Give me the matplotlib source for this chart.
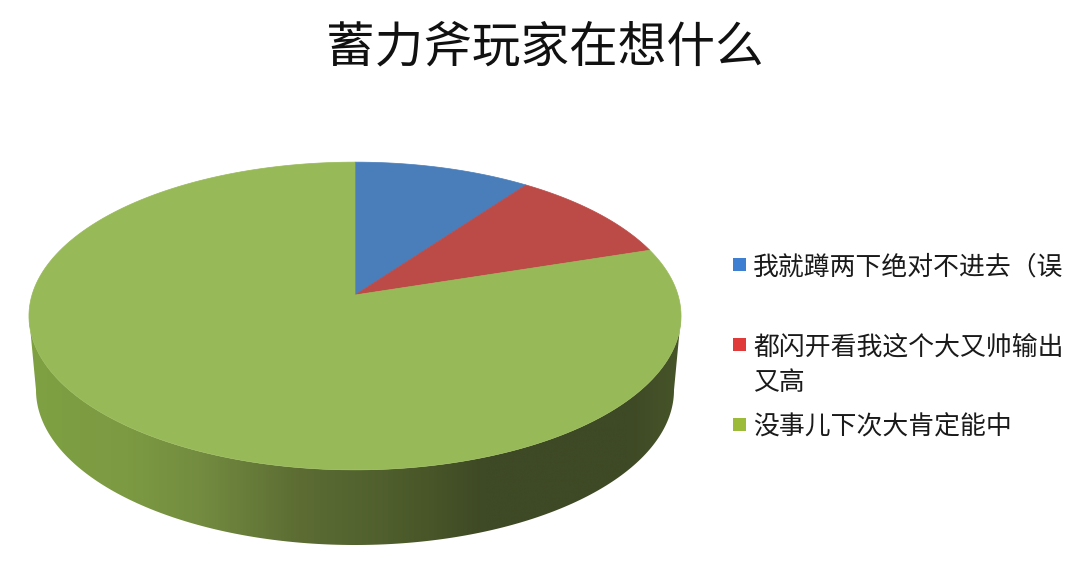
import numpy as np
import matplotlib
matplotlib.use('Agg')
import matplotlib.pyplot as plt
from matplotlib.patches import Polygon, Rectangle
from matplotlib.colors import LinearSegmentedColormap

plt.rcParams['font.family'] = ['Noto Sans CJK SC', 'DejaVu Sans']

title = '蓄力斧玩家在想什么'
labels = ['我就蹲两下绝对不进去（误', '都闪开看我这个大又帅输出\n又高', '没事儿下次大肯定能中']
values = [10, 10, 80]
colors = ['#4a7ebb', '#bc4b48', '#98b958']
legend_colors = ['#3f7fd2', '#e03a3a', '#9dbb3b']
legend_y = [265, 345, 425]

CX, CY = 355, 295
A, B, K = 323, 151, 0.1364


def rim(start, stop, n=200):
    # clockwise angle from twelve o'clock, with a little perspective
    t = np.linspace(start, stop, n)
    x, y = np.sin(t), np.cos(t)
    w = 1 + K * y
    return CX + A * x / w, CY - B * y / w


fig = plt.figure(figsize=(10.88, 5.80), dpi=100)
ax = fig.add_axes([0, 0, 1, 1])
ax.set_xlim(0, 1088)
ax.set_ylim(580, 0)
ax.axis('off')

# side wall: shaded band, clipped to the outline between top rim and lower rim
wall_cmap = LinearSegmentedColormap.from_list('wall', [
    (0.0, '#7fa043'), (0.15, '#7c9a42'), (0.26, '#738c40'), (0.415, '#5c6c33'),
    (0.50, '#546430'), (0.60, '#4a5829'), (0.70, '#3e4925'), (0.92, '#3e4925'),
    (1.0, '#47552a')])
t = np.linspace(np.pi / 2, 3 * np.pi / 2, 200)
low_x = 355 + 319 * np.sin(t)
low_y = 390 - 155 * np.cos(t)
top_t = np.linspace(3 * np.pi / 2, np.pi / 2, 200)
top_x = 355 + 326 * np.sin(top_t)
top_y = 316 - 154 * np.cos(top_t)
outline = Polygon(np.column_stack([np.r_[low_x, top_x], np.r_[low_y, top_y]]),
                  closed=True, fc='none', ec='none')
ax.add_patch(outline)
im = ax.imshow(np.linspace(0, 1, 512)[None, :], cmap=wall_cmap, aspect='auto',
               extent=[29, 681, 560, 300], zorder=1)
im.set_clip_path(outline)
ax.set_xlim(0, 1088)
ax.set_ylim(580, 0)

# top face
bounds = np.r_[0, np.cumsum(values)] / sum(values) * 2 * np.pi
for i, c in enumerate(colors):
    x, y = rim(bounds[i], bounds[i + 1])
    ax.add_patch(Polygon(np.column_stack([np.r_[CX, x], np.r_[CY, y]]),
                         closed=True, fc=c, ec=c, lw=0.5, zorder=2))

ax.text(545, 48, title, ha='center', va='center', fontsize=35, color='#111111')

for lab, c, ly in zip(labels, legend_colors, legend_y):
    ax.add_patch(Rectangle((733, ly - 7), 13, 13, fc=c, ec='none'))
    ax.text(753, ly - 11, lab, ha='left', va='top', fontsize=18.6,
            color='#1a1a1a', linespacing=1.38)

fig.savefig('out.png', dpi=100)
